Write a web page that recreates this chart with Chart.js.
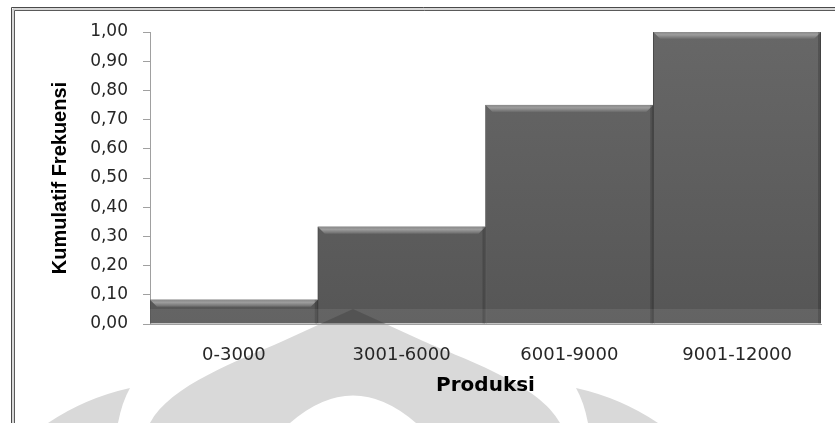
<!DOCTYPE html>
<html>
<head>
<meta charset="utf-8">
<script src="https://cdn.jsdelivr.net/npm/chart.js@4.4.1/dist/chart.umd.min.js"></script>
<style>
  html, body { margin: 0; padding: 0; background: #fff; }
</style>
</head>
<body>
<canvas id="myChart-Produksi" width="835" height="423"></canvas>
<script>
const categories = ['0-3000', '3001-6000', '6001-9000', '9001-12000'];
const kumulatif = [0.083, 0.333, 0.75, 1.00];
const yTickValues = [0, 0.1, 0.2, 0.3, 0.4, 0.5, 0.6, 0.7, 0.8, 0.9, 1.0];

// white page, document frame and the faint watermark behind the chart
const pageBackground = {
  id: 'pageBackground',
  beforeDraw(chart) {
    const ctx = chart.ctx;
    ctx.save();
    ctx.fillStyle = '#fff';
    ctx.fillRect(0, 0, chart.width, chart.height);

    // watermark
    ctx.fillStyle = '#d9d9d9';
    ctx.beginPath();
    ctx.moveTo(130, 388);
    ctx.quadraticCurveTo(85, 398, 48, 423);
    ctx.lineTo(118, 423);
    ctx.quadraticCurveTo(122, 402, 130, 388);
    ctx.closePath();
    ctx.fill();

    ctx.beginPath();
    ctx.moveTo(576, 388);
    ctx.quadraticCurveTo(621, 398, 658, 423);
    ctx.lineTo(588, 423);
    ctx.quadraticCurveTo(584, 402, 576, 388);
    ctx.closePath();
    ctx.fill();

    ctx.beginPath();
    ctx.moveTo(353, 309);
    ctx.lineTo(283, 341);
    ctx.bezierCurveTo(240, 360, 170, 385, 150, 423);
    ctx.lineTo(560, 423);
    ctx.bezierCurveTo(540, 385, 466, 360, 423, 341);
    ctx.closePath();
    ctx.fill();

    ctx.fillStyle = '#fff';
    ctx.beginPath();
    ctx.moveTo(290, 423);
    ctx.quadraticCurveTo(353, 368, 416, 423);
    ctx.closePath();
    ctx.fill();

    // frame
    ctx.lineWidth = 1;
    ctx.strokeStyle = '#4a4a4a';
    ctx.beginPath();
    ctx.moveTo(11.5, 423); ctx.lineTo(11.5, 7.5); ctx.lineTo(835, 7.5);
    ctx.stroke();
    ctx.strokeStyle = '#b0b0b0';
    ctx.beginPath();
    ctx.moveTo(13, 423); ctx.lineTo(13, 9); ctx.lineTo(835, 9);
    ctx.stroke();
    ctx.strokeStyle = '#5a5a5a';
    ctx.beginPath();
    ctx.moveTo(14.5, 423); ctx.lineTo(14.5, 10.5); ctx.lineTo(835, 10.5);
    ctx.stroke();
    ctx.restore();
  }
};

// bevel on top of each bar and the watermark band across the bar bottoms
const barBevel = {
  id: 'barBevel',
  afterDatasetsDraw(chart) {
    const ctx = chart.ctx;
    const area = chart.chartArea;
    const meta = chart.getDatasetMeta(0);
    ctx.save();
    meta.data.forEach(bar => {
      const p = bar.getProps(['x', 'y', 'base', 'width'], true);
      const l = p.x - p.width / 2, r = p.x + p.width / 2, h = 7;
      const g = ctx.createLinearGradient(0, p.y, 0, p.y + h);
      g.addColorStop(0, '#8a8a8a');
      g.addColorStop(0.4, '#9c9c9c');
      g.addColorStop(1, '#6a6a6a');
      ctx.fillStyle = g;
      ctx.beginPath();
      ctx.moveTo(l, p.y);
      ctx.lineTo(r, p.y);
      ctx.lineTo(r - h, p.y + h);
      ctx.lineTo(l + h, p.y + h);
      ctx.closePath();
      ctx.fill();
      ctx.fillStyle = 'rgba(0,0,0,0.18)';
      ctx.fillRect(r - 3, p.y, 3, p.base - p.y);
    });
    const bandTop = area.bottom - 15;
    ctx.fillStyle = 'rgba(255,255,255,0.08)';
    ctx.fillRect(area.left, bandTop, area.right - area.left, area.bottom - bandTop);
    ctx.fillStyle = 'rgba(0,0,0,0.16)';
    ctx.beginPath();
    ctx.moveTo(353, bandTop);
    ctx.lineTo(386, area.bottom);
    ctx.lineTo(320, area.bottom);
    ctx.closePath();
    ctx.fill();
    ctx.restore();
  }
};

const chartEl = document.getElementById('myChart-Produksi');

new Chart(chartEl, {
  type: 'bar',
  data: {
    labels: categories,
    datasets: [{
      label: 'Kumulatif Frekuensi',
      data: kumulatif,
      backgroundColor: function (c) {
        const area = c.chart.chartArea;
        if (!area) return '#606060';
        const g = c.chart.ctx.createLinearGradient(0, area.top, 0, area.bottom);
        g.addColorStop(0, '#676767');
        g.addColorStop(1, '#565656');
        return g;
      },
      borderColor: '#474747',
      borderWidth: 1,
      categoryPercentage: 1.0,
      barPercentage: 1.0
    }]
  },
  options: {
    responsive: false,
    animation: false,
    layout: {
      padding: { left: 48, top: 32, right: 14, bottom: 25 }
    },
    plugins: {
      legend: { display: false },
      tooltip: { enabled: false }
    },
    scales: {
      x: {
        afterFit: s => { s.height = 74; },
        grid: { display: false, drawTicks: false },
        border: { display: true, color: '#a0a0a0' },
        ticks: {
          padding: 21,
          color: '#262626',
          font: { family: "'DejaVu Sans', sans-serif", size: 18 }
        },
        title: {
          display: true,
          text: 'Produksi',
          color: '#000',
          padding: 0,
          font: { family: "'DejaVu Sans', sans-serif", size: 20, weight: 'bold' }
        }
      },
      y: {
        min: 0,
        max: 1,
        afterFit: s => { s.width = 102; },
        afterBuildTicks: s => { s.ticks = yTickValues.map(v => ({ value: v })); },
        grid: { display: true, drawOnChartArea: false, tickLength: 7, color: '#a0a0a0' },
        border: { display: true, color: '#a0a0a0' },
        ticks: {
          padding: 15,
          color: '#262626',
          font: { family: "'DejaVu Sans', sans-serif", size: 17 },
          callback: v => Number(v).toFixed(2).replace('.', ',')
        },
        title: {
          display: true,
          text: 'Kumulatif Frekuensi',
          color: '#000',
          padding: 0,
          font: { family: "'Liberation Sans', sans-serif", size: 20, weight: 'bold' }
        }
      }
    }
  },
  plugins: [pageBackground, barBevel]
});
</script>
</body>
</html>
